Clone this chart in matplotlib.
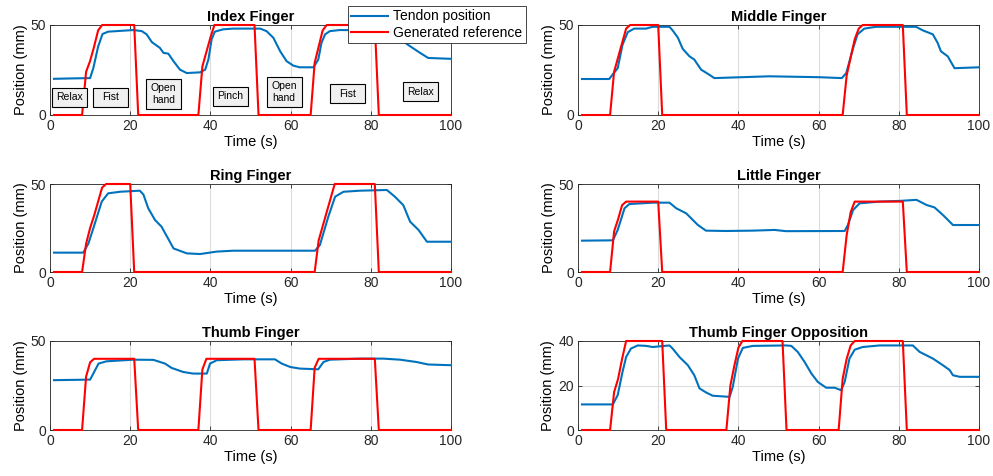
#!/usr/bin/env python3
"""Tendon position vs generated reference for each finger (2x3 panel figure)."""

import matplotlib
matplotlib.use("Agg")
import matplotlib.pyplot as plt
from matplotlib.patches import Rectangle

# ---- data ----
# generated reference (red), piecewise linear
index_ref_t = [1, 8, 9, 10, 11, 12, 13, 21, 22, 37, 38, 39, 40, 41, 51, 52, 65, 66, 67, 68, 69, 81, 82, 100]
index_ref_y = [0, 0, 24, 30, 38, 47, 50, 50, 0, 0, 27, 35, 43, 50, 50, 0, 0, 29, 38, 47, 50, 50, 0, 0]
middle_ref_t = [1, 8, 9, 10, 11, 12, 13, 20, 21, 66, 67, 68, 69, 70, 71, 81, 82, 100]
middle_ref_y = [0, 0, 24, 32, 40, 48, 50, 50, 0, 0, 22, 32, 42, 48, 50, 50, 0, 0]
ring_ref_t = [1, 8, 9, 10, 11, 12, 13, 14, 20, 21, 66, 67, 68, 69, 70, 71, 81, 82, 100]
ring_ref_y = [0, 0, 16, 25, 32, 40, 48, 50, 50, 0, 0, 18, 26, 34, 42, 50, 50, 0, 0]
little_ref_t = [1, 8, 9, 10, 11, 12, 20, 21, 66, 67, 68, 69, 81, 82, 100]
little_ref_y = [0, 0, 23, 30, 38, 40, 40, 0, 0, 21, 34, 40, 40, 0, 0]
thumb_ref_t = [1, 8, 9, 10, 11, 21, 22, 37, 38, 39, 51, 52, 65, 66, 67, 81, 82, 100]
thumb_ref_y = [0, 0, 30, 38, 40, 40, 0, 0, 34, 40, 40, 0, 0, 35, 40, 40, 0, 0]
opp_ref_t = [1, 8, 9, 10, 11, 12, 21, 22, 37, 38, 39, 40, 41, 51, 52, 65, 66, 67, 68, 69, 81, 82, 100]
opp_ref_y = [0, 0, 17, 23, 32, 40, 40, 0, 0, 20, 29, 37, 40, 40, 0, 0, 23, 32, 38, 40, 40, 0, 0]

# measured tendon position (blue)
index_pos_t = [1, 5, 10, 10.8, 12, 13.1, 14.5, 16.6, 20.8, 22.9, 24.1, 25.4, 27.4, 28.3, 29.5, 30.8,
               32.4, 34.1, 37.4, 38.7, 39.5, 40.3, 41.1, 43.2, 45.7, 52.4, 54, 55.7, 57.4, 59, 60.7,
               62.3, 65.7, 66.9, 67.7, 68.6, 69.8, 72.3, 80, 84, 86, 88, 89.8, 92.3, 94.3, 100]
index_pos_y = [20.1, 20.3, 20.5, 26, 38, 45, 46.3, 46.6, 47.2, 46.6, 44.8, 40.5, 37.3, 34.5, 34.1, 29.9,
               25.2, 23.3, 23.7, 25.2, 30.8, 42, 46.3, 47.6, 48, 48, 46.6, 42.9, 35.4, 29.9, 27.4,
               26.5, 26.5, 30.8, 40.1, 44.8, 46.6, 47.2, 47, 46, 44, 41, 38.2, 34.5, 31.7, 31.2]
middle_pos_t = [1, 7.8, 8.6, 9.9, 11.1, 12.4, 14, 17, 18.6, 22.8, 23.6, 24.9, 26.1, 27.8, 29, 30.7,
                32.3, 34, 39.4, 47.7, 60.2, 65.8, 66.9, 68.5, 69.7, 71.4, 74.3, 81, 84.3, 86, 88.5,
                89.7, 90.5, 92.2, 93.9, 100]
middle_pos_y = [20, 20, 22.4, 26, 39, 46, 48, 48, 49, 49, 47, 43, 36.8, 32.6, 30.8, 25.2,
                23, 20.5, 20.9, 21.5, 21, 20.5, 23.3, 36.4, 44.8, 48, 49, 49, 49, 47, 44.8,
                40, 35.4, 32.6, 26, 26.5]
ring_pos_t = [1, 8.3, 9.6, 11.2, 12.9, 14.5, 17.5, 22.4, 23.3, 24.5, 26.2, 27.8, 30.8, 34.1, 37.4,
              41.6, 45.7, 54, 66.1, 67.3, 69.4, 71.1, 73.2, 77.3, 84, 86, 88.1, 89.8, 91.9, 94, 100]
ring_pos_y = [11, 11, 16.3, 27.7, 40, 44.7, 45.6, 46.2, 44, 36.2, 29.5, 25.8, 13.4, 10.6, 10.2,
              11.6, 12.1, 12.1, 12.1, 15.3, 31.4, 42.8, 45.6, 46.2, 46.6, 42.8, 38, 28.6, 23.9, 17.2, 17.2]
little_pos_t = [1, 8.7, 9.9, 11.6, 12.8, 18.6, 22.8, 24.5, 27, 29.9, 31.9, 36.9, 43.6, 49, 51.9,
                66.5, 67.3, 68.6, 70.2, 75.2, 80.2, 84.4, 86.9, 88.9, 91, 93.5, 100]
little_pos_y = [17.8, 18, 23.9, 36.2, 38.6, 39.4, 39.4, 36.2, 33.3, 26.7, 23.5, 23.3, 23.5, 23.9, 23.2,
                23.3, 26.7, 35.2, 39, 40, 40.4, 41, 38.1, 36.7, 32.4, 26.7, 26.7]
thumb_pos_t = [1, 10, 10.8, 12.1, 14.1, 20.8, 25.8, 28.7, 30.3, 33.2, 35.7, 39.1, 39.9, 41.6, 48.2,
               56.1, 57.8, 59.9, 62.3, 66.9, 68.2, 69.8, 77.3, 83.1, 87.3, 91.4, 94.3, 100]
thumb_pos_y = [28, 28.3, 31.7, 37.3, 38.6, 39.5, 39.4, 37.3, 34.9, 32.6, 31.7, 31.7, 37.3, 39.2, 39.7,
               39.7, 37.3, 35.4, 34.5, 34.1, 38.2, 39.5, 40.1, 40.1, 39.5, 38.2, 36.8, 36.4]
opp_pos_t = [1, 8.7, 9.9, 11.1, 12, 13.2, 14.9, 17, 18.6, 22.8, 23.6, 25.3, 27.4, 29, 30.3, 31.9,
             33.6, 37.8, 38.6, 39.9, 41.1, 43.6, 51.9, 53.2, 54.8, 56.5, 58.2, 59.8, 61.9, 64, 65.6,
             66.5, 67.7, 69, 71, 75.2, 83.5, 85.2, 88.5, 91, 92.7, 93.5, 95.2, 100]
opp_pos_y = [11.5, 11.5, 15.7, 26.1, 32.8, 36.6, 38, 37.8, 37.3, 38, 36.6, 32.8, 29.1, 24.6, 18.7, 16.9,
             15.4, 14.9, 19.4, 32.1, 36.9, 37.8, 38, 37.8, 35.1, 30.6, 25.4, 21.6, 19, 19, 17.9,
             21.6, 32.1, 36.1, 37.3, 38, 38, 35.1, 32.1, 29.1, 26.9, 24.6, 23.9, 23.9]

titles = ["Index Finger", "Middle Finger", "Ring Finger", "Little Finger",
          "Thumb Finger", "Thumb Finger Opposition"]
pos_series = [(index_pos_t, index_pos_y), (middle_pos_t, middle_pos_y), (ring_pos_t, ring_pos_y),
              (little_pos_t, little_pos_y), (thumb_pos_t, thumb_pos_y), (opp_pos_t, opp_pos_y)]
ref_series = [(index_ref_t, index_ref_y), (middle_ref_t, middle_ref_y), (ring_ref_t, ring_ref_y),
              (little_ref_t, little_ref_y), (thumb_ref_t, thumb_ref_y), (opp_ref_t, opp_ref_y)]
y_limits = [(0, 50), (0, 50), (0, 50), (0, 50), (0, 50), (0, 40)]
y_ticks = [[0, 50], [0, 50], [0, 50], [0, 50], [0, 50], [0, 20, 40]]

# gesture annotations on the index panel: (label, x, y)
gesture_labels = ["Relax", "Fist", "Open\nhand", "Pinch", "Open\nhand", "Fist", "Relax"]
gesture_x = [4.9, 15.1, 28.3, 44.9, 58.4, 74.2, 92.3]
gesture_y = [10.0, 10.0, 11.7, 10.5, 12.8, 11.9, 12.8]

BLUE = "#0072BD"
RED = "#FF0000"

plt.rcParams["font.family"] = ["Liberation Sans", "DejaVu Sans"]
plt.rcParams["font.size"] = 10

fig = plt.figure(figsize=(9.93, 4.76), dpi=100)

col_left = [50 / 993, 578 / 993]
ax_w = 401 / 993
rows = [(1 - 115 / 476, 90 / 476), (1 - 272 / 476, 88 / 476), (1 - 430 / 476, 89 / 476)]

axes = []
for i in range(6):
    r, c = divmod(i, 2)
    bottom, height = rows[r]
    ax = fig.add_axes([col_left[c], bottom, ax_w, height])
    axes.append(ax)

    t, y = pos_series[i]
    ax.plot(t, y, color=BLUE, lw=1.5, label="Tendon position", zorder=3, clip_on=False)
    t, y = ref_series[i]
    ax.plot(t, y, color=RED, lw=1.5, label="Generated reference", zorder=4, clip_on=False)

    ax.set_xlim(0, 100)
    ax.set_ylim(*y_limits[i])
    ax.set_xticks([0, 20, 40, 60, 80, 100])
    ax.set_yticks(y_ticks[i])
    ax.grid(True, color="#dcdcdc", lw=0.8)
    ax.set_axisbelow(True)
    ax.tick_params(direction="in", length=3, width=0.6, top=True, right=True,
                   colors="#262626", labelsize=10, pad=3)
    for s in ax.spines.values():
        s.set_color("#262626")
        s.set_linewidth(0.6)
    ax.set_title(titles[i], fontweight="bold", fontsize=10.5, pad=3)
    ax.set_xlabel("Time (s)", fontsize=10.5, labelpad=1)
    ax.set_ylabel("Position (mm)", fontsize=10.5, labelpad=2)

# gesture boxes: fixed-size boxes (in pixels) centred on each label
ax0 = axes[0]
px_x = 100 / 401   # data units per pixel, x
px_y = 50 / 90     # data units per pixel, y
box_w = 35 * px_x
for lab, gx, gy in zip(gesture_labels, gesture_x, gesture_y):
    box_h = (30 if "\n" in lab else 19) * px_y
    ax0.add_patch(Rectangle((gx - box_w / 2, gy - box_h / 2), box_w, box_h,
                            facecolor="#f0f0f0", edgecolor="black", lw=0.8, zorder=5))
    ax0.text(gx, gy, lab, ha="center", va="center", fontsize=7.5, linespacing=1.15, zorder=6)

# legend above/right of index panel
leg = ax0.legend(loc="upper left", bbox_to_anchor=(348 / 993, 1 - 6 / 476),
                 bbox_transform=fig.transFigure, fontsize=10, handlelength=2.6,
                 borderpad=0.25, labelspacing=0.15, handletextpad=0.4, borderaxespad=0,
                 fancybox=False, framealpha=1, edgecolor="#262626")
leg.get_frame().set_linewidth(0.6)
leg.set_zorder(10)

fig.savefig("out.png", dpi=100)
